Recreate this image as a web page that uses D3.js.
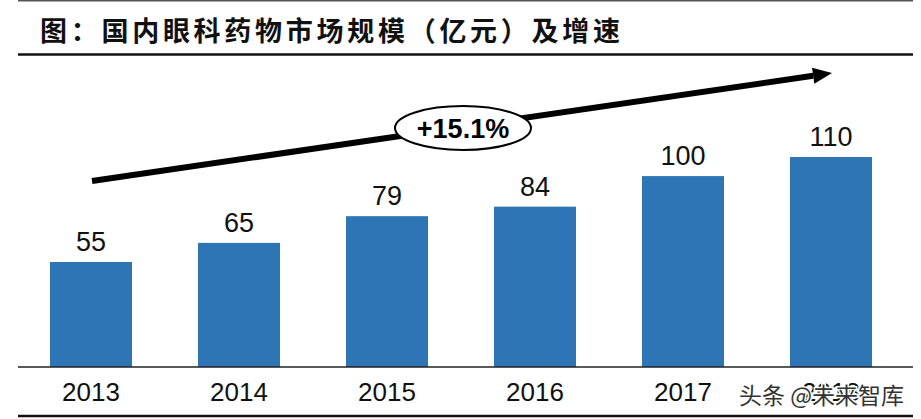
<!DOCTYPE html>
<html><head><meta charset="utf-8">
<script src="https://cdn.jsdelivr.net/npm/d3@7"></script>
<style>
html,body{margin:0;padding:0;background:#fff;}
svg{display:block;}
</style></head>
<body>
<svg id="chart" width="921" height="419"></svg>
<script>
const title = "图：国内眼科药物市场规模（亿元）及增速";
const years = ["2013","2014","2015","2016","2017","2018"];
const values = [55, 65, 79, 84, 100, 110];
const cagrLabel = "+15.1%";
const watermark = "头条 @未来智库";

const svg = d3.select("#chart");
const x = d3.scaleBand().domain(years).range([17, 905]).paddingInner(0.446).paddingOuter(0.223);
const y = d3.scaleLinear().domain([0, 110]).range([367, 157]);

// top gray rule
svg.append("line").attr("x1",18).attr("x2",913).attr("y1",0.5).attr("y2",0.5)
  .attr("stroke","#555").attr("stroke-width",2);
// title
svg.append("text").attr("x",40).attr("y",41).text(title)
  .attr("font-family","'Noto Sans CJK SC'").attr("font-weight","bold")
  .attr("font-size",27).attr("fill","#111")
  .attr("textLength",580).attr("lengthAdjust","spacing");
svg.append("line").attr("x1",18).attr("x2",913).attr("y1",54.5).attr("y2",54.5)
  .attr("stroke","#111").attr("stroke-width",2.5);

// bars
svg.selectAll("rect.bar").data(values).join("rect").attr("class","bar")
  .attr("x",(d,i)=>x(years[i])).attr("width",x.bandwidth())
  .attr("y",d=>y(d)).attr("height",d=>y(0)-y(d))
  .attr("fill","#2E75B6");

// value labels
svg.selectAll("text.val").data(values).join("text").attr("class","val")
  .attr("x",(d,i)=>x(years[i])+x.bandwidth()/2).attr("y",d=>y(d)-11)
  .attr("text-anchor","middle").attr("font-family","'Liberation Sans', Arial")
  .attr("font-size",27).attr("fill","#111").text(d=>d);

// x axis
const xAxis = d3.axisBottom(x).tickSize(0).tickPadding(0);
const gx = svg.append("g").attr("transform",`translate(0,${y(0)})`).call(xAxis);
gx.select(".domain").remove();
gx.selectAll("text").attr("font-family","'Liberation Sans', Arial").attr("font-size",26)
  .attr("fill","#111").attr("dy",0).attr("y",34);
svg.append("line").attr("x1",18).attr("x2",913).attr("y1",y(0)).attr("y2",y(0))
  .attr("stroke","#222").attr("stroke-width",1.5);
svg.append("line").attr("x1",18).attr("x2",913).attr("y1",416).attr("y2",416)
  .attr("stroke","#111").attr("stroke-width",2.5);

// trend arrow
const ax1 = x(years[0])+x.bandwidth()/2+1, ay1 = 181;
const ax2 = x(years[5])+x.bandwidth()/2+1, ay2 = 73;
const ang = Math.atan2(ay2-ay1, ax2-ax1);
const headLen = 19, headW = 8;
const bx = ax2 - headLen*Math.cos(ang), by = ay2 - headLen*Math.sin(ang);
svg.append("line").attr("x1",ax1).attr("y1",ay1).attr("x2",bx).attr("y2",by)
  .attr("stroke","#000").attr("stroke-width",6);
const px = -Math.sin(ang), py = Math.cos(ang);
svg.append("path").attr("d",`M${ax2},${ay2}L${bx+px*headW},${by+py*headW}L${bx-px*headW},${by-py*headW}Z`)
  .attr("fill","#000");

// ellipse with CAGR
svg.append("ellipse").attr("cx",463).attr("cy",128).attr("rx",68).attr("ry",22)
  .attr("fill","#fff").attr("stroke","#000").attr("stroke-width",2);
svg.append("text").attr("x",463).attr("y",138).attr("text-anchor","middle")
  .attr("font-family","'Liberation Sans', Arial").attr("font-weight","bold")
  .attr("font-size",27).attr("fill","#000").text(cagrLabel);

// watermark
svg.append("text").attr("x",739).attr("y",404).text(watermark)
  .attr("font-family","'Noto Sans CJK SC'").attr("font-size",23)
  .attr("fill","#333").attr("stroke","#fff").attr("stroke-width",3)
  .attr("paint-order","stroke");
</script>
</body></html>
